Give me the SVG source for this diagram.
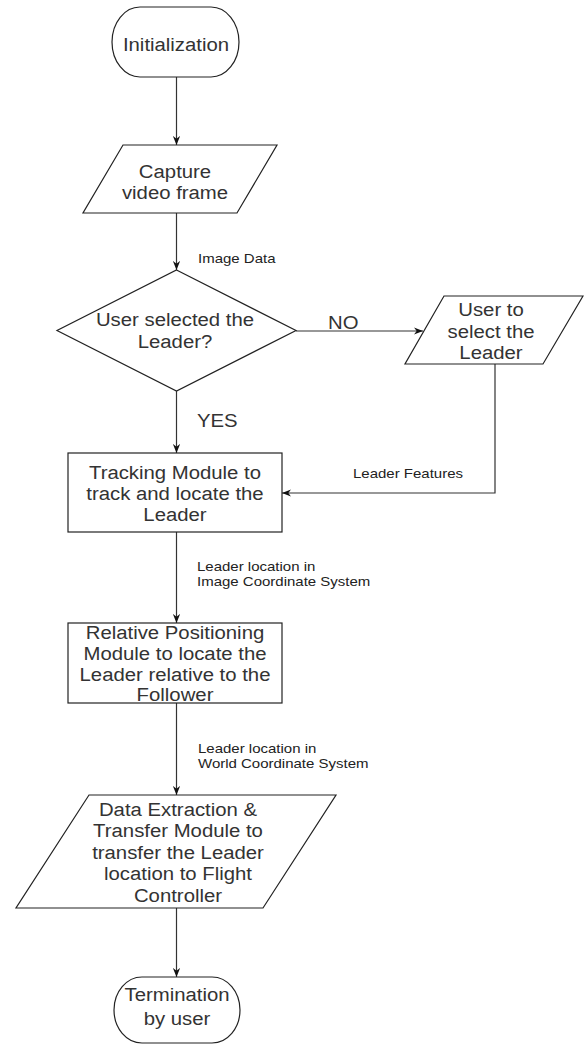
<svg xmlns="http://www.w3.org/2000/svg" width="584" height="1045" viewBox="0 0 584 1045">
<style>
.shape{fill:#fff;stroke:#222;stroke-width:1.2}
.edge{fill:none;stroke:#333;stroke-width:1.2}
.nt{font-family:"Liberation Sans",Arial,sans-serif;font-size:18px;fill:#333;text-anchor:middle}
.lb{font-family:"Liberation Sans",Arial,sans-serif;font-size:12.5px;fill:#222}
.yn{font-family:"Liberation Sans",Arial,sans-serif;font-size:18px;fill:#333}
</style>
<defs>
<marker id="arr" viewBox="0 0 10 8" refX="10" refY="4" markerWidth="9" markerHeight="7.5" orient="auto" markerUnits="userSpaceOnUse">
<path d="M0,0 L10,4 L0,8 L3,4 Z" fill="#111"/>
</marker>
</defs>
<rect width="584" height="1045" fill="#fff"/>
<g id="connectors">
<path class="edge" d="M176.5,77 V145" marker-end="url(#arr)"/>
<path class="edge" d="M176.5,213 V270" marker-end="url(#arr)"/>
<path class="edge" d="M296,331 H423" marker-end="url(#arr)"/>
<path class="edge" d="M176.5,391 V453" marker-end="url(#arr)"/>
<path class="edge" d="M495,364 V493 H282" marker-end="url(#arr)"/>
<path class="edge" d="M176.5,532 V623" marker-end="url(#arr)"/>
<path class="edge" d="M176.5,703 V795" marker-end="url(#arr)"/>
<path class="edge" d="M176.5,908 V977" marker-end="url(#arr)"/>
<text class="lb" transform="translate(198 0) scale(1.2 1)" x="0" y="263">Image Data</text>
<text class="yn" transform="translate(328 0) scale(1.13 1)" x="0" y="329">NO</text>
<text class="yn" transform="translate(197 0) scale(1.13 1)" x="0" y="427">YES</text>
<text class="lb" transform="translate(353 0) scale(1.2 1)" x="0" y="478">Leader Features</text>
<text class="lb" transform="translate(197 0) scale(1.2 1)" y="571"><tspan x="0" y="571">Leader location in</tspan><tspan x="0" y="586">Image Coordinate System</tspan></text>
<text class="lb" transform="translate(198 0) scale(1.2 1)" y="753"><tspan x="0" y="753">Leader location in</tspan><tspan x="0" y="768">World Coordinate System</tspan></text>
</g>
<g id="init">
<rect class="shape" x="112" y="7" width="127" height="70" rx="28" ry="35"/>
<text class="nt" transform="translate(176 0) scale(1.13 1)" x="0" y="51">Initialization</text>
</g>
<g id="capture">
<polygon class="shape" points="123,145 277,145 237,213 83,213"/>
<text class="nt" transform="translate(175 0) scale(1.13 1)"><tspan x="0" y="178">Capture</tspan><tspan x="0" y="199">video frame</tspan></text>
</g>
<g id="decision">
<polygon class="shape" points="176.5,270 296,330.5 176.5,391 57,330.5"/>
<text class="nt" transform="translate(175 0) scale(1.13 1)"><tspan x="0" y="326">User selected the</tspan><tspan x="0" y="348">Leader?</tspan></text>
</g>
<g id="select">
<polygon class="shape" points="444,296 583,296 543,364 405,364"/>
<text class="nt" transform="translate(491 0) scale(1.13 1)"><tspan x="0" y="316">User to</tspan><tspan x="0" y="338">select the</tspan><tspan x="0" y="359">Leader</tspan></text>
</g>
<g id="tracking">
<rect class="shape" x="68" y="453" width="214" height="79"/>
<text class="nt" transform="translate(175 0) scale(1.13 1)"><tspan x="0" y="479">Tracking Module to</tspan><tspan x="0" y="500">track and locate the</tspan><tspan x="0" y="521">Leader</tspan></text>
</g>
<g id="relative">
<rect class="shape" x="68" y="623" width="214" height="80"/>
<text class="nt" transform="translate(175 0) scale(1.13 1)"><tspan x="0" y="639">Relative Positioning</tspan><tspan x="0" y="660">Module to locate the</tspan><tspan x="0" y="681">Leader relative to the</tspan><tspan x="0" y="701">Follower</tspan></text>
</g>
<g id="transfer">
<polygon class="shape" points="89,795 336,795 263,908 16,908"/>
<text class="nt" transform="translate(178 0) scale(1.13 1)"><tspan x="0" y="816">Data Extraction &amp;</tspan><tspan x="0" y="837">Transfer Module to</tspan><tspan x="0" y="859">transfer the Leader</tspan><tspan x="0" y="880">location to Flight</tspan><tspan x="0" y="902">Controller</tspan></text>
</g>
<g id="termination">
<rect class="shape" x="114" y="977" width="126" height="66" rx="28" ry="33"/>
<text class="nt" transform="translate(177 0) scale(1.13 1)"><tspan x="0" y="1001">Termination</tspan><tspan x="0" y="1025">by user</tspan></text>
</g>
</svg>
